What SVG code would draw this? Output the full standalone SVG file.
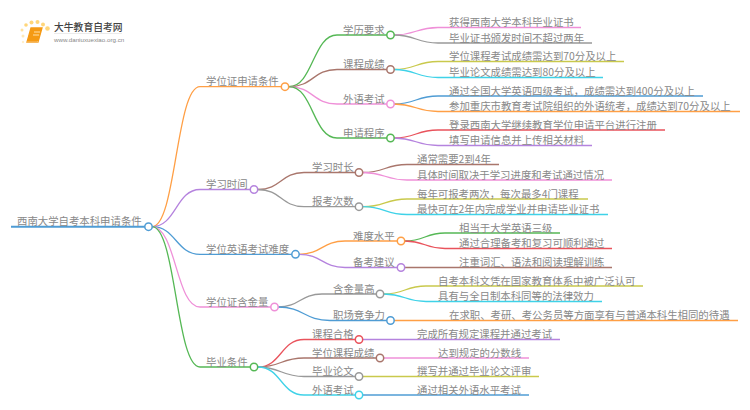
<svg xmlns="http://www.w3.org/2000/svg" width="750" height="410" viewBox="0 0 750 410">
<style>
text{font-family:"Noto Sans CJK SC","Noto Sans",sans-serif;font-size:10.4px;fill:#888}
path{fill:none;stroke-width:1.3}
circle{fill:#fff;stroke-width:1.5}
.o{stroke:#ff9f45}.p{stroke:#b583de}.b{stroke:#4f9cd4}.k{stroke:#ef90d8}.g{stroke:#55b855}.n{stroke:#a9766c}.y{stroke:#999}.l{stroke:#c9c94c}.c{stroke:#3fd2e8}.r{stroke:#e9535c}
</style>
<rect width="750" height="410" fill="#fff"/>
<g id="logo">
<g fill="#ffd67a"><circle cx="23" cy="36" r="1.5" style="fill:#ffe9b8;stroke:none"/><circle cx="22" cy="30" r="1.5" style="fill:#ffe2a0;stroke:none"/><circle cx="26" cy="25" r="1.8" style="fill:#ffd67a;stroke:none"/><circle cx="31.500" cy="22.500" r="2" style="fill:#ffd67a;stroke:none"/><circle cx="37.500" cy="22" r="2" style="fill:#ffd67a;stroke:none"/><circle cx="43" cy="24.500" r="2" style="fill:#ffd67a;stroke:none"/><circle cx="47.500" cy="28.500" r="2.300" style="fill:#ffd67a;stroke:none"/><circle cx="23" cy="42" r="1.200" style="fill:#ffefcc;stroke:none"/></g>
<path d="M31 28H42L38 42H27Z" style="fill:#f59a14;stroke:#f59a14"/>
<path d="M27 42H38L37.500 41" style="stroke:#f7c070;stroke-width:1"/>
<path d="M34 32H40M33 35H39" style="stroke:#ffe0a8;stroke-width:1"/>
<text x="54" y="31" style="font-size:9.800px;font-weight:500;fill:#444">大牛教育自考网</text>
<path d="M54 33.500H122" style="stroke:#ddd;stroke-width:.6"/>
<text x="54" y="41.500" style="font-size:6.200px;fill:#888;font-family:'Liberation Sans',sans-serif">www.daniuxuexiao.org.cn</text>
</g>
<g id="connectors">
<path class="b" style="stroke-width:2" d="M11 226.700H148"/>
<path class="o" d="M152 226.700C176 226.700 176 86.700 200 86.700H281"/>
<path class="p" d="M152 226.700C176 226.700 176 189.500 200 189.500H250"/>
<path class="b" d="M152 226.700C176 226.700 176 254.300 200 254.300H292"/>
<path class="k" d="M152 226.700C176 226.700 176 307 200 307H271"/>
<path class="g" d="M152 226.700C176 226.700 176 367 200 367H250"/>
<path class="g" d="M289 86.700C313 86.700 313 35 337 35H387"/>
<path class="n" d="M289 86.700C313 86.700 313 69.500 337 69.500H387"/>
<path class="k" d="M289 86.700C313 86.700 313 104 337 104H387"/>
<path class="g" d="M289 86.700C313 86.700 313 138 337 138H387"/>
<path class="k" d="M394 35C416 35 416 27.500 438 27.500H581"/>
<path class="y" d="M394 35C416 35 416 43 438 43H592"/>
<path class="l" d="M394 69.500C416 69.500 416 61.500 438 61.500H624"/>
<path class="c" d="M394 69.500C416 69.500 416 77.500 438 77.500H603"/>
<path class="b" d="M394 104C416 104 416 96 438 96H703"/>
<path class="o" d="M394 104C416 104 416 111.500 438 111.500H740"/>
<path class="r" d="M394 138C416 138 416 130 438 130H665"/>
<path class="p" d="M394 138C416 138 416 145.500 438 145.500H592"/>
<path class="n" d="M258 189.500C281 189.500 281 172.500 304 172.500H355"/>
<path class="y" d="M258 189.500C281 189.500 281 206.700 304 206.700H355"/>
<path class="n" d="M363 172.500C385 172.500 385 164.500 407 164.500H499"/>
<path class="k" d="M363 172.500C385 172.500 385 180 407 180H612"/>
<path class="l" d="M363 206.700C385 206.700 385 199 407 199H588"/>
<path class="c" d="M363 206.700C385 206.700 385 214.500 407 214.500H608"/>
<path class="o" d="M299 254.300C322 254.300 322 241 345 241H397"/>
<path class="p" d="M299 254.300C322 254.300 322 267.500 345 267.500H397"/>
<path class="g" d="M405 241C425 241 425 233 445 233H560"/>
<path class="r" d="M405 241C425 241 425 248.500 445 248.500H612"/>
<path class="n" d="M405 267.500H612"/>
<path class="y" d="M278 307C300 307 300 294 322 294H376"/>
<path class="b" d="M278 307C304 307 304 320.500 330 320.500H387"/>
<path class="l" d="M384 294C405 294 405 286 426 286H643"/>
<path class="c" d="M384 294C405 294 405 301.500 426 301.500H602"/>
<path class="o" d="M394 320.500H738"/>
<path class="r" d="M258 367C281 367 281 339.500 304 339.500H355"/>
<path class="n" d="M258 367C281 367 281 358 304 358H376"/>
<path class="y" d="M258 367C281 367 281 376.500 304 376.500H355"/>
<path class="c" d="M258 367C281 367 281 395 304 395H355"/>
<path class="p" d="M363 339.500H560"/>
<path class="k" d="M384 358H529"/>
<path class="l" d="M363 376.500H539"/>
<path class="b" d="M363 395H529"/>
</g>
<g id="n0"><circle class="b" cx="148.500" cy="226.700" r="3.700"/><text x="17" y="225">西南大学自考本科申请条件</text></g>
<g id="n1"><circle class="o" cx="285" cy="86.700" r="3.700"/><text x="206" y="85">学位证申请条件</text></g>
<g id="n2"><circle class="g" cx="390.500" cy="35" r="3.700"/><text x="343" y="33.500">学历要求</text></g>
<g id="n3"><circle class="n" cx="390.500" cy="69.500" r="3.700"/><text x="343" y="68">课程成绩</text></g>
<g id="n4"><circle class="k" cx="390.500" cy="104" r="3.700"/><text x="343" y="102.500">外语考试</text></g>
<g id="n5"><circle class="g" cx="390.500" cy="138" r="3.700"/><text x="343" y="136.500">申请程序</text></g>
<g id="n6"><text x="449" y="26">获得西南大学本科毕业证书</text></g>
<g id="n7"><text x="449" y="41.500">毕业证书颁发时间不超过两年</text></g>
<g id="n8"><text x="449" y="60">学位课程考试成绩需达到70分及以上</text></g>
<g id="n9"><text x="449" y="76">毕业论文成绩需达到80分及以上</text></g>
<g id="n10"><text x="449" y="94.500">通过全国大学英语四级考试，成绩需达到400分及以上</text></g>
<g id="n11"><text x="449" y="110">参加重庆市教育考试院组织的外语统考，成绩达到70分及以上</text></g>
<g id="n12"><text x="449" y="128.500">登录西南大学继续教育学位申请平台进行注册</text></g>
<g id="n13"><text x="449" y="144">填写申请信息并上传相关材料</text></g>
<g id="n14"><circle class="p" cx="254" cy="189.500" r="3.700"/><text x="206" y="188">学习时间</text></g>
<g id="n15"><circle class="n" cx="359" cy="172.500" r="3.700"/><text x="312" y="170.500">学习时长</text></g>
<g id="n16"><circle class="y" cx="359" cy="206.700" r="3.700"/><text x="312" y="205">报考次数</text></g>
<g id="n17"><text x="417" y="163">通常需要2到4年</text></g>
<g id="n18"><text x="417" y="178.500">具体时间取决于学习进度和考试通过情况</text></g>
<g id="n19"><text x="417" y="197.500">每年可报考两次，每次最多4门课程</text></g>
<g id="n20"><text x="417" y="213">最快可在2年内完成学业并申请毕业证书</text></g>
<g id="n21"><circle class="b" cx="295.500" cy="254.300" r="3.700"/><text x="206" y="252.500">学位英语考试难度</text></g>
<g id="n22"><circle class="o" cx="401" cy="241" r="3.700"/><text x="353" y="239.500">难度水平</text></g>
<g id="n23"><circle class="p" cx="401" cy="267.500" r="3.700"/><text x="353" y="266">备考建议</text></g>
<g id="n24"><text x="459" y="231.500">相当于大学英语三级</text></g>
<g id="n25"><text x="459" y="247">通过合理备考和复习可顺利通过</text></g>
<g id="n26"><text x="459" y="266">注重词汇、语法和阅读理解训练</text></g>
<g id="n27"><circle class="k" cx="274.500" cy="307" r="3.700"/><text x="206" y="305.500">学位证含金量</text></g>
<g id="n28"><circle class="y" cx="380" cy="294" r="3.700"/><text x="333" y="292.500">含金量高</text></g>
<g id="n29"><circle class="b" cx="390.500" cy="320.500" r="3.700"/><text x="333" y="319">职场竞争力</text></g>
<g id="n30"><text x="438" y="284.500">自考本科文凭在国家教育体系中被广泛认可</text></g>
<g id="n31"><text x="438" y="300">具有与全日制本科同等的法律效力</text></g>
<g id="n32"><text x="449" y="319">在求职、考研、考公务员等方面享有与普通本科生相同的待遇</text></g>
<g id="n33"><circle class="g" cx="254" cy="367" r="3.700"/><text x="206" y="365.500">毕业条件</text></g>
<g id="n34"><circle class="r" cx="359" cy="339.500" r="3.700"/><text x="312" y="337.500">课程合格</text></g>
<g id="n35"><circle class="n" cx="380" cy="358" r="3.700"/><text x="312" y="356.500">学位课程成绩</text></g>
<g id="n36"><circle class="y" cx="359" cy="376.500" r="3.700"/><text x="312" y="375">毕业论文</text></g>
<g id="n37"><circle class="c" cx="359" cy="395" r="3.700"/><text x="312" y="393.500">外语考试</text></g>
<g id="n38"><text x="417" y="337.500">完成所有规定课程并通过考试</text></g>
<g id="n39"><text x="438" y="356.500">达到规定的分数线</text></g>
<g id="n40"><text x="417" y="375">撰写并通过毕业论文评审</text></g>
<g id="n41"><text x="417" y="393.500">通过相关外语水平考试</text></g>
</svg>
